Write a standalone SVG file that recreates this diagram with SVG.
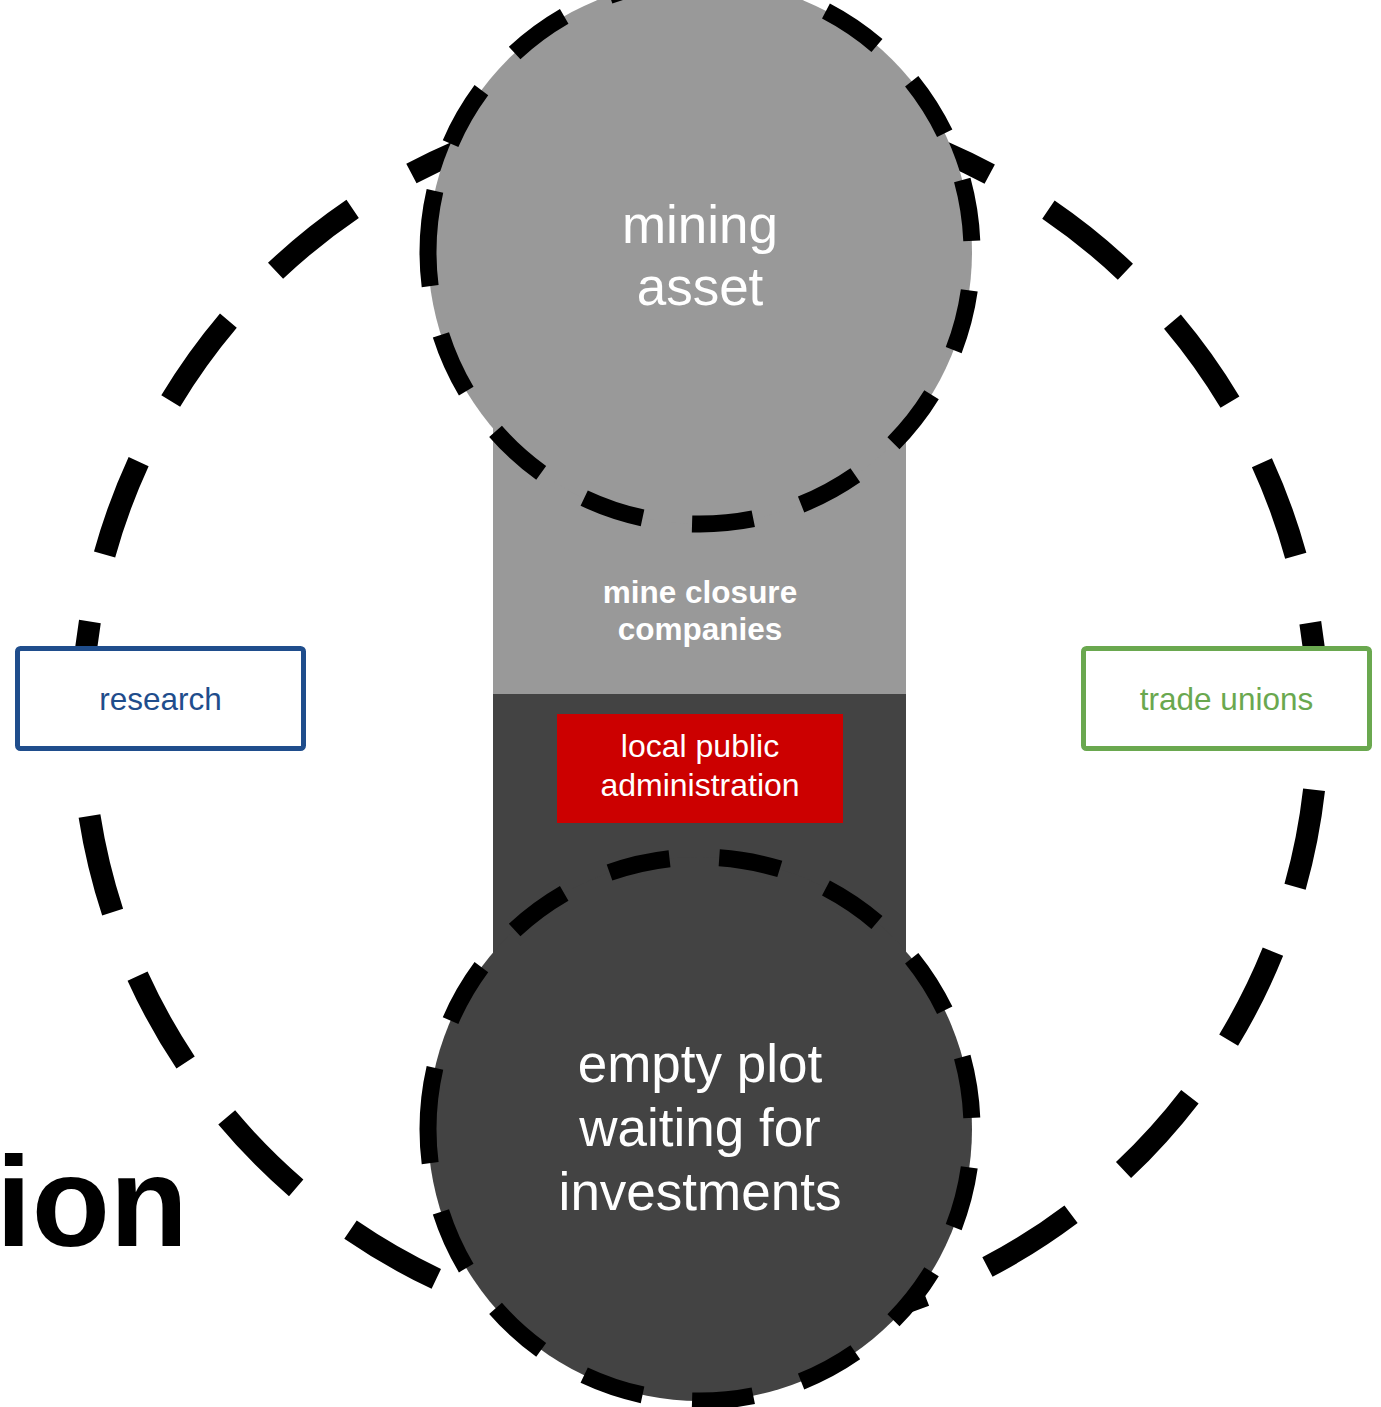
<svg xmlns="http://www.w3.org/2000/svg" width="1381" height="1407" viewBox="0 0 1381 1407">
  <style>
    .txt { font-family: "Liberation Sans", Arial, sans-serif; text-anchor: middle; }
    .ring { fill: none; stroke: #000000; stroke-width: 22; stroke-dasharray: 99 68.6; }
    .small { stroke: #000000; stroke-width: 17; stroke-dasharray: 61.7 49.9; }
    .white { fill: #ffffff; }
  </style>
  <rect x="0" y="0" width="1381" height="1407" fill="#ffffff"/>

  <g id="outer-ring">
    <path class="ring" d="M 82 720 A 618 618 0 1 1 1318 720 A 618 618 0 1 1 82 720 Z"/>
  </g>

  <g id="ion-label">
    <text class="txt" x="188" y="1246" style="text-anchor:end" font-size="128" font-weight="bold" fill="#000000">ion</text>
  </g>

  <g id="mine-closure-companies">
    <rect x="493" y="252" width="413" height="442" fill="#999999"/>
    <text class="txt white" font-size="31.5" font-weight="bold"><tspan x="700" y="603">mine closure</tspan><tspan x="700" y="640">companies</tspan></text>
  </g>

  <g id="dark-band">
    <rect x="493" y="694" width="413" height="435" fill="#434343"/>
  </g>

  <g id="mining-asset">
    <path class="small" fill="#999999" d="M 428 252 A 272 272 0 1 1 972 252 A 272 272 0 1 1 428 252 Z"/>
    <text class="txt white" font-size="53"><tspan x="700" y="243">mining</tspan><tspan x="700" y="305">asset</tspan></text>
  </g>

  <g id="empty-plot">
    <path class="small" fill="#434343" d="M 428 1129 A 272 272 0 1 1 972 1129 A 272 272 0 1 1 428 1129 Z"/>
    <text class="txt white" font-size="53"><tspan x="700" y="1082">empty plot</tspan><tspan x="700" y="1146">waiting for</tspan><tspan x="700" y="1210">investments</tspan></text>
  </g>

  <g id="local-public-administration">
    <rect x="557" y="714" width="286" height="109" fill="#cc0000"/>
    <text class="txt white" font-size="32"><tspan x="700" y="757">local public</tspan><tspan x="700" y="796">administration</tspan></text>
  </g>

  <g id="research">
    <rect x="17.5" y="648.5" width="286" height="100" rx="3" fill="#ffffff" stroke="#1f4d8c" stroke-width="5"/>
    <text class="txt" x="160.5" y="710" font-size="31.5" fill="#1f4d8c">research</text>
  </g>

  <g id="trade-unions">
    <rect x="1083.5" y="648.5" width="286" height="100" rx="3" fill="#ffffff" stroke="#6aa84f" stroke-width="5"/>
    <text class="txt" x="1226.5" y="710" font-size="31.5" fill="#6aa84f">trade unions</text>
  </g>

  <g id="connectors"/>
</svg>
